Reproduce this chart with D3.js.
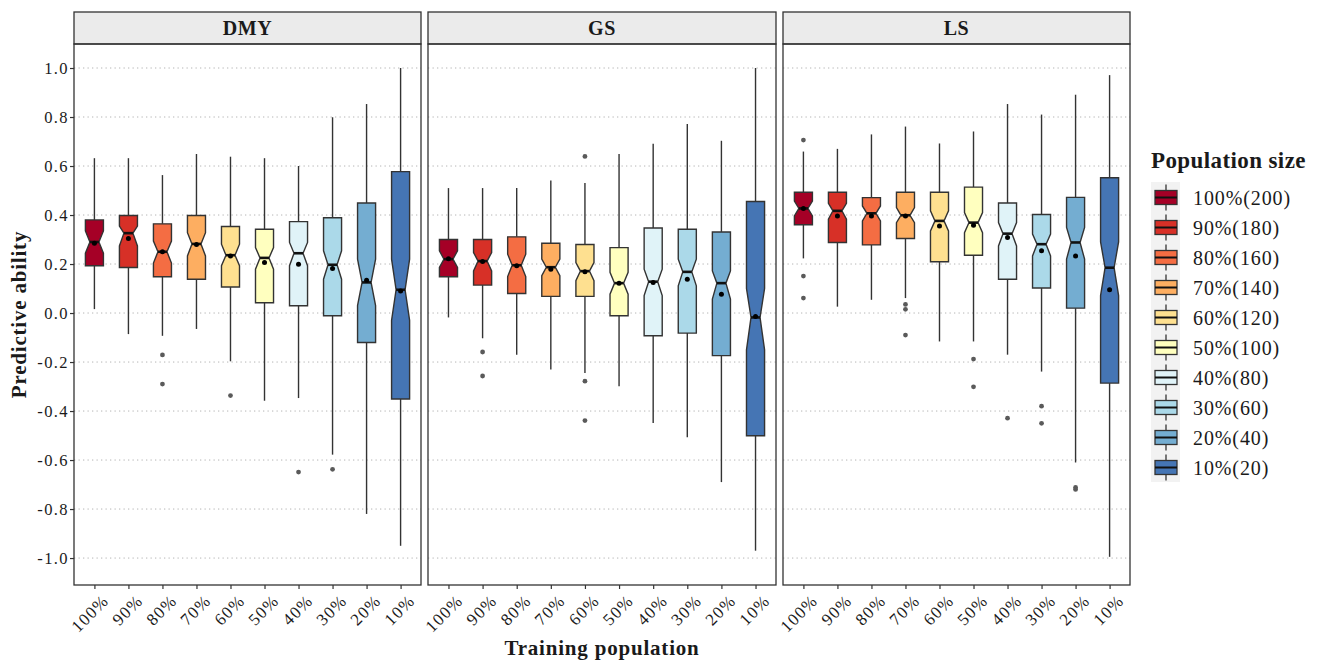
<!DOCTYPE html>
<html><head><meta charset="utf-8">
<script src="https://cdn.jsdelivr.net/npm/d3@7"></script>
<style>body{margin:0;background:#fff}svg{display:block}</style>
</head><body><svg id="c" width="1322" height="664"></svg>
<script>
// ---------- data ----------
const panels = ["DMY", "GS", "LS"];
const categories = ["100%", "90%", "80%", "70%", "60%", "50%", "40%", "30%", "20%", "10%"];
const legendLabels = ["100%(200)", "90%(180)", "80%(160)", "70%(140)", "60%(120)", "50%(100)", "40%(80)", "30%(60)", "20%(40)", "10%(20)"];
const colors = ["#a50026", "#d73027", "#f46d43", "#fdae61", "#fee090", "#ffffbf", "#e0f3f8", "#abd9e9", "#74add1", "#4575b4"];
const yTicks = [1.0, 0.8, 0.6, 0.4, 0.2, 0.0, -0.2, -0.4, -0.6, -0.8, -1.0];
const yTickLabels = ["1.0", "0.8", "0.6", "0.4", "0.2", "0.0", "-0.2", "-0.4", "-0.6", "-0.8", "-1.0"];

// per panel (DMY, GS, LS), per category (100% ... 10%)
const whiskerHigh = [
  [0.632, 0.632, 0.563, 0.649, 0.638, 0.632, 0.600, 0.799, 0.853, 1.000],
  [0.510, 0.510, 0.510, 0.541, 0.531, 0.649, 0.691, 0.772, 0.703, 1.000],
  [0.659, 0.670, 0.729, 0.761, 0.692, 0.741, 0.853, 0.810, 0.891, 0.971]
];
const q3 = [
  [0.380, 0.398, 0.364, 0.398, 0.353, 0.342, 0.373, 0.389, 0.449, 0.577],
  [0.300, 0.300, 0.311, 0.285, 0.280, 0.267, 0.347, 0.342, 0.331, 0.455],
  [0.493, 0.493, 0.471, 0.493, 0.493, 0.514, 0.449, 0.402, 0.472, 0.552]
];
const notchHigh = [
  [0.335, 0.355, 0.294, 0.328, 0.281, 0.267, 0.288, 0.254, 0.220, 0.220],
  [0.254, 0.247, 0.240, 0.220, 0.206, 0.166, 0.179, 0.220, 0.172, 0.100],
  [0.457, 0.448, 0.437, 0.430, 0.417, 0.410, 0.369, 0.322, 0.349, 0.290]
];
const median = [
  [0.290, 0.326, 0.250, 0.282, 0.236, 0.225, 0.244, 0.197, 0.125, 0.095],
  [0.220, 0.212, 0.195, 0.187, 0.171, 0.122, 0.128, 0.168, 0.122, -0.018],
  [0.427, 0.417, 0.407, 0.399, 0.376, 0.369, 0.324, 0.281, 0.288, 0.185]
];
const notchLow = [
  [0.244, 0.274, 0.204, 0.233, 0.193, 0.179, 0.193, 0.138, 0.030, -0.030],
  [0.186, 0.172, 0.149, 0.152, 0.132, 0.077, 0.071, 0.111, 0.057, -0.150],
  [0.396, 0.383, 0.376, 0.369, 0.335, 0.328, 0.274, 0.233, 0.220, 0.071]
];
const q1 = [
  [0.193, 0.186, 0.148, 0.138, 0.106, 0.042, 0.030, -0.011, -0.120, -0.351],
  [0.148, 0.114, 0.080, 0.068, 0.068, -0.011, -0.093, -0.082, -0.174, -0.501],
  [0.360, 0.288, 0.278, 0.304, 0.209, 0.236, 0.138, 0.102, 0.020, -0.286]
];
const whiskerLow = [
  [0.016, -0.086, -0.093, -0.065, -0.197, -0.358, -0.347, -0.578, -0.820, -0.950],
  [-0.018, -0.103, -0.170, -0.230, -0.245, -0.299, -0.449, -0.507, -0.690, -0.970],
  [0.223, 0.026, 0.054, 0.061, -0.116, -0.116, -0.170, -0.239, -0.610, -0.995]
];
const means = [
  [0.285, 0.304, 0.250, 0.280, 0.233, 0.206, 0.199, 0.182, 0.134, 0.090],
  [0.222, 0.210, 0.193, 0.179, 0.168, 0.122, 0.125, 0.138, 0.077, -0.014],
  [0.427, 0.396, 0.396, 0.396, 0.355, 0.358, 0.308, 0.254, 0.233, 0.095]
];
const outliers = [
  [[], [], [-0.171, -0.290], [], [-0.337], [], [-0.649], [-0.638], [], []],
  [[], [-0.159, -0.257], [], [], [0.639, -0.278, -0.439], [], [], [], [], []],
  [[0.706, 0.151, 0.061], [], [], [0.035, 0.015, -0.090], [], [-0.188, -0.301], [-0.429], [-0.380, -0.450], [-0.712, -0.720], []]
];

// ---------- layout ----------
const svg = d3.select("#c");
const serif = "'Liberation Serif','Times New Roman',serif";
const textCol = "#1a1a1a";
const panelX = [[74, 421], [428, 776], [783, 1130]];
const plotTop = 44, plotBottom = 585, stripTop = 12;
const y = d3.scaleLinear().domain([-1.11, 1.098]).range([plotBottom, plotTop]);

panels.forEach((pname, p) => {
  const [x0, x1] = panelX[p];
  const x = d3.scalePoint().domain(categories).range([x0, x1]).padding(0.6);
  const hw = x.step() * 0.265;
  const g = svg.append("g");

  g.append("rect").attr("x", x0).attr("y", plotTop).attr("width", x1 - x0).attr("height", plotBottom - plotTop).attr("fill", "#fff");
  g.selectAll("line.grid").data(yTicks).join("line")
    .attr("x1", x0).attr("x2", x1).attr("y1", d => y(d)).attr("y2", d => y(d))
    .attr("stroke", "#b5b5b5").attr("stroke-width", 1).attr("stroke-dasharray", "1.3,3.2");

  // strip
  g.append("rect").attr("x", x0).attr("y", stripTop).attr("width", x1 - x0).attr("height", plotTop - stripTop)
    .attr("fill", "#ebebeb").attr("stroke", "#333").attr("stroke-width", 1.3);
  g.append("text").attr("x", (x0 + x1) / 2).attr("y", (stripTop + plotTop) / 2 + 7)
    .attr("text-anchor", "middle").attr("font-family", serif).attr("font-weight", "bold")
    .attr("font-size", 20).attr("letter-spacing", 0.6).attr("fill", textCol).text(pname);

  categories.forEach((c, i) => {
    const cx = x(c);
    const bg = g.append("g");
    bg.append("line").attr("x1", cx).attr("x2", cx).attr("y1", y(whiskerHigh[p][i])).attr("y2", y(q3[p][i]))
      .attr("stroke", "#333").attr("stroke-width", 1.4);
    bg.append("line").attr("x1", cx).attr("x2", cx).attr("y1", y(q1[p][i])).attr("y2", y(whiskerLow[p][i]))
      .attr("stroke", "#333").attr("stroke-width", 1.4);
    const nh = hw / 2;
    const pts = [
      [cx - hw, y(q3[p][i])], [cx + hw, y(q3[p][i])],
      [cx + hw, y(notchHigh[p][i])], [cx + nh, y(median[p][i])], [cx + hw, y(notchLow[p][i])],
      [cx + hw, y(q1[p][i])], [cx - hw, y(q1[p][i])],
      [cx - hw, y(notchLow[p][i])], [cx - nh, y(median[p][i])], [cx - hw, y(notchHigh[p][i])]
    ];
    bg.append("path").attr("d", d3.line()(pts) + "Z")
      .attr("fill", colors[i]).attr("stroke", "#333").attr("stroke-width", 1.4).attr("stroke-linejoin", "miter");
    bg.append("line").attr("x1", cx - nh).attr("x2", cx + nh).attr("y1", y(median[p][i])).attr("y2", y(median[p][i]))
      .attr("stroke", "#111").attr("stroke-width", 2.6);
    bg.selectAll("circle.o").data(outliers[p][i]).join("circle")
      .attr("cx", cx).attr("cy", d => y(d)).attr("r", 2.4).attr("fill", "#5a5a5a");
    bg.append("circle").attr("cx", cx).attr("cy", y(means[p][i])).attr("r", 2.5).attr("fill", "#000");
  });

  g.append("rect").attr("x", x0).attr("y", plotTop).attr("width", x1 - x0).attr("height", plotBottom - plotTop)
    .attr("fill", "none").attr("stroke", "#333").attr("stroke-width", 1.3);

  const xa = g.append("g").attr("transform", `translate(0,${plotBottom})`)
    .call(d3.axisBottom(x).tickSize(4).tickPadding(0));
  xa.select(".domain").remove();
  xa.selectAll(".tick line").attr("stroke", "#333").attr("stroke-width", 1.2);
  xa.selectAll(".tick text")
    .attr("font-family", serif).attr("font-size", 17).attr("letter-spacing", 1.2).attr("fill", textCol)
    .attr("text-anchor", "end").attr("dy", 0)
    .attr("transform", "translate(12,14) rotate(-45)");

  if (p === 0) {
    const ya = svg.append("g").attr("transform", `translate(${x0},0)`)
      .call(d3.axisLeft(y).tickValues(yTicks).tickFormat((d, k) => yTickLabels[k]).tickSize(4).tickPadding(1));
    ya.select(".domain").remove();
    ya.selectAll(".tick line").attr("stroke", "#333").attr("stroke-width", 1.2);
    ya.selectAll(".tick text").attr("font-family", serif).attr("font-size", 16.5)
      .attr("letter-spacing", 1.4).attr("fill", textCol);
  }
});

// axis titles
svg.append("text").attr("transform", `translate(26,${(plotTop + plotBottom) / 2}) rotate(-90)`)
  .attr("text-anchor", "middle").attr("font-family", serif).attr("font-weight", "bold")
  .attr("font-size", 21).attr("letter-spacing", 0.8).attr("fill", textCol).text("Predictive ability");
svg.append("text").attr("x", (panelX[0][0] + panelX[2][1]) / 2).attr("y", 655)
  .attr("text-anchor", "middle").attr("font-family", serif).attr("font-weight", "bold")
  .attr("font-size", 21).attr("letter-spacing", 0.8).attr("fill", textCol).text("Training population");

// legend
const lg = svg.append("g");
lg.append("text").attr("x", 1151).attr("y", 168).attr("font-family", serif).attr("font-weight", "bold")
  .attr("font-size", 23).attr("letter-spacing", 0.4).attr("fill", textCol).text("Population size");
const keyY = d3.scalePoint().domain(legendLabels).range([197.5, 467.5]);
lg.append("rect").attr("x", 1151).attr("y", 182).attr("width", 29).attr("height", 300).attr("fill", "#f2f2f2");
legendLabels.forEach((lab, i) => {
  const cy = keyY(lab), cx = 1166;
  lg.append("line").attr("x1", cx).attr("x2", cx).attr("y1", cy - 13).attr("y2", cy + 13)
    .attr("stroke", "#333").attr("stroke-width", 1.3);
  lg.append("rect").attr("x", 1155).attr("y", cy - 7).attr("width", 22).attr("height", 14)
    .attr("fill", colors[i]).attr("stroke", "#333").attr("stroke-width", 1.3);
  lg.append("line").attr("x1", 1155).attr("x2", 1177).attr("y1", cy).attr("y2", cy)
    .attr("stroke", "#111").attr("stroke-width", 2);
  lg.append("text").attr("x", 1193).attr("y", cy + 7).attr("font-family", serif)
    .attr("font-size", 20).attr("letter-spacing", 0.9).attr("fill", textCol).text(lab);
});
</script>
</body></html>
